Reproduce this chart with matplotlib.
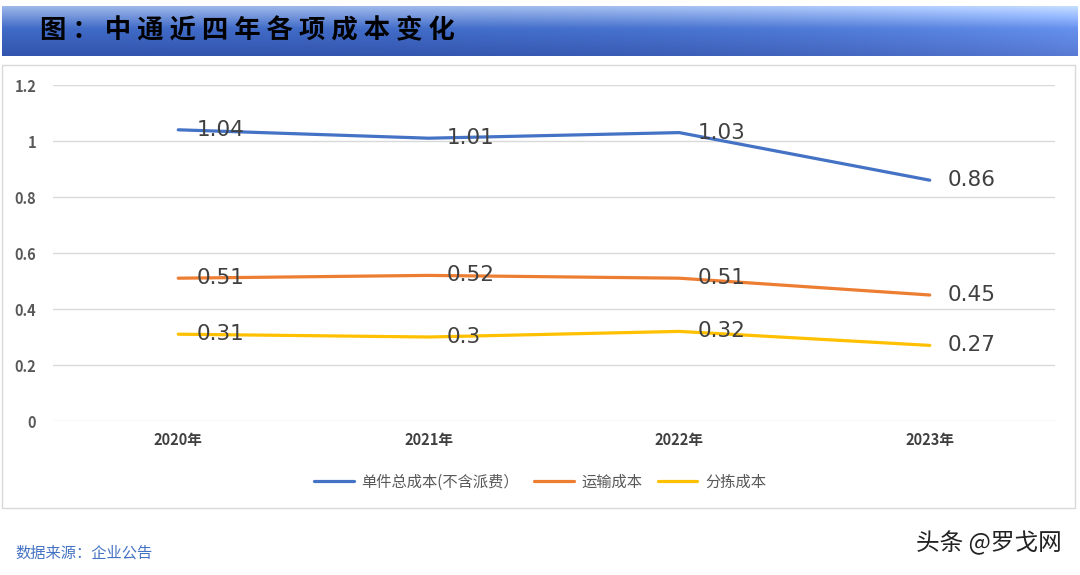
import numpy as np
import matplotlib.pyplot as plt
from matplotlib.patches import Rectangle

plt.rcParams['font.family'] = ['Noto Sans CJK SC', 'DejaVu Sans']

years = ['2020年', '2021年', '2022年', '2023年']
total = [1.04, 1.01, 1.03, 0.86]
transport = [0.51, 0.52, 0.51, 0.45]
sorting = [0.31, 0.30, 0.32, 0.27]
names = ['单件总成本(不含派费）', '运输成本', '分拣成本']
colors = ['#4472C4', '#ED7D31', '#FFC000']

fig = plt.figure(figsize=(10.8, 5.75), dpi=100)

# title banner with gradient
bax = fig.add_axes([2 / 1080, 1 - 56 / 575, 1076 / 1080, 50 / 575])
v = np.linspace(0, 1, 60)[:, None]
h = np.linspace(0, 1, 200)[None, :]
top = np.array([0.62, 0.72, 0.92])
mid = np.array([0.25, 0.42, 0.78])
bot = np.array([0.20, 0.33, 0.68])
t = v
col = np.where(t[..., None] < 0.45,
               top + (mid - top) * (t[..., None] / 0.45),
               mid + (bot - mid) * ((t[..., None] - 0.45) / 0.55))
img = col * np.ones((1, 200, 1))
img = img + (h[..., None] ** 3) * 0.15
img = np.clip(img, 0, 1)
bax.imshow(img, aspect='auto', extent=[0, 1, 0, 1])
bax.set_axis_off()
bax.text(0.035, 0.5, '图 ： 中 通 近 四 年 各 项 成 本 变 化', fontsize=19, fontweight='bold',
         color='black', va='center', ha='left', transform=bax.transAxes)

# chart border
fig.patches.append(Rectangle((2 / 1080, 1 - 508 / 575), 1073 / 1080, 443 / 575,
                             transform=fig.transFigure, fill=False, edgecolor='#D9D9D9', lw=1))

ax = fig.add_axes([53 / 1080, 1 - 421 / 575, 1002 / 1080, 336 / 575])
x = np.arange(len(years))
for vals, name, c in zip([total, transport, sorting], names, colors):
    ax.plot(x, vals, color=c, lw=2.3, label=name, solid_capstyle='round')
    for xi, yi in zip(x, vals):
        ax.annotate(f'{yi:g}', (xi, yi), xytext=(13, 0), textcoords='offset points',
                    fontsize=15.5, color='#404040', va='center', ha='left',
                    family='DejaVu Sans')

ax.set_xlim(-0.5, 3.5)
ax.set_ylim(0, 1.2)
ax.set_yticks([0, 0.2, 0.4, 0.6, 0.8, 1.0, 1.2])
ax.set_yticklabels(['0', '0.2', '0.4', '0.6', '0.8', '1', '1.2'])
ax.set_xticks(x)
ax.set_xticklabels(years)
ax.tick_params(axis='y', length=0, pad=12, labelsize=10.5, labelcolor='#595959')
ax.tick_params(axis='x', length=0, pad=8, labelsize=10.5, labelcolor='#404040')
for lab in ax.get_xticklabels() + ax.get_yticklabels():
    lab.set_fontweight('bold')
ax.grid(axis='y', color='#D9D9D9', lw=1)
ax.set_axisbelow(True)
for s in ax.spines.values():
    s.set_visible(False)

fig.legend(loc='center', bbox_to_anchor=(540 / 1080, 1 - 482 / 575), ncol=3, frameon=False,
           fontsize=11, labelcolor='#595959', handlelength=2.6, columnspacing=1.0,
           handletextpad=0.5)

fig.text(15 / 1080, 1 - 553 / 575, '数据来源：企业公告', fontsize=11, color='#4472C4',
         va='center', ha='left')
fig.text(1062 / 1080, 1 - 543 / 575, '头条 @罗戈网', fontsize=17, color='#222222',
         va='center', ha='right')

fig.savefig('out.png', dpi=100, facecolor='white')
